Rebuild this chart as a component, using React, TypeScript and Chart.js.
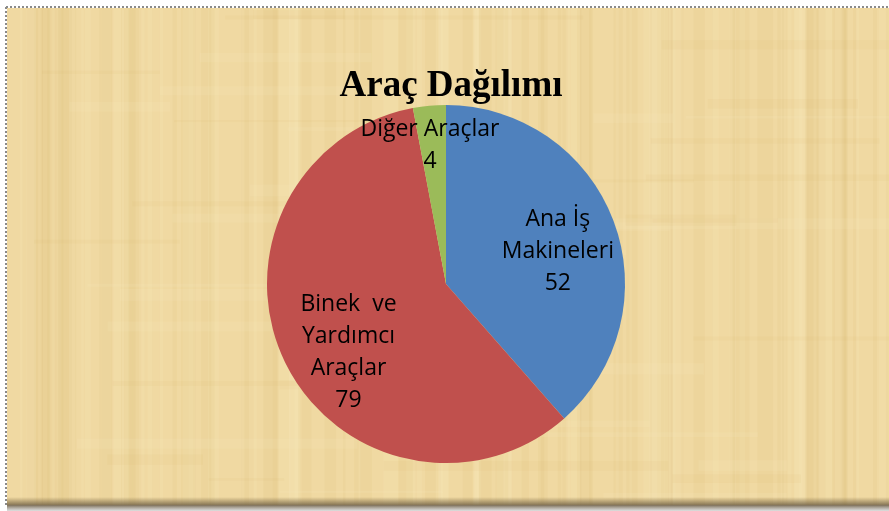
import React, { useEffect, useRef } from "react";
import { Chart, registerables } from "chart.js";

Chart.register(...registerables);

const TITLE = "Araç Dağılımı";
const categories = ["Ana İş Makineleri", "Binek ve Yardımcı Araçlar", "Diğer Araçlar"];
const labelLines = [["Ana İş", "Makineleri"], ["Binek  ve", "Yardımcı", "Araçlar"], ["Diğer Araçlar"]];
const values = [52, 79, 4];
const colors = ["#4F81BD", "#C0504D", "#9BBB59"];
// label placement: absolute angle (deg) and radius fraction
const labelAngles = [-16, 145, -96.6];
const labelRadius = [0.65, 0.665, 0.78];

function hash(n: number) {
  const s = Math.sin(n * 127.1 + 311.7) * 43758.5453;
  return s - Math.floor(s);
}

const backgroundPlugin = {
  id: "papyrus",
  beforeDraw(chart: any) {
    const ctx = chart.ctx as CanvasRenderingContext2D;
    const W = chart.width, H = chart.height;
    ctx.save();
    ctx.fillStyle = "#ffffff";
    ctx.fillRect(0, 0, W, H);
    const x0 = 7, y0 = 8, x1 = W, y1 = H - 6;
    ctx.fillStyle = "#F0D9A2";
    ctx.fillRect(x0, y0, x1 - x0, y1 - y0);
    // vertical streaks
    for (let i = 0; i < 120; i++) {
      const x = x0 + hash(i) * (x1 - x0);
      const w = 2 + hash(i + 500) * 14;
      const light = hash(i + 900) > 0.5;
      ctx.fillStyle = light ? "rgba(248,232,190,0.18)" : "rgba(214,178,105,0.09)";
      ctx.fillRect(x, y0, w, y1 - y0);
    }
    // horizontal streaks
    for (let i = 0; i < 50; i++) {
      const y = y0 + hash(i + 2000) * (y1 - y0);
      const h = 2 + hash(i + 2500) * 10;
      const x = x0 + hash(i + 3000) * (x1 - x0) * 0.8;
      const w = 60 + hash(i + 3500) * 300;
      const light = hash(i + 4000) > 0.5;
      ctx.fillStyle = light ? "rgba(248,232,190,0.14)" : "rgba(214,178,105,0.08)";
      ctx.fillRect(x, y, w, h);
    }
    // bottom shadow
    const g = ctx.createLinearGradient(0, y1 - 8, 0, H);
    g.addColorStop(0, "rgba(120,100,60,0)");
    g.addColorStop(0.6, "rgba(110,95,70,0.85)");
    g.addColorStop(1, "rgba(200,200,200,0.6)");
    ctx.fillStyle = g;
    ctx.fillRect(x0, y1 - 8, x1 - x0, H - y1 + 8);
    // dotted border top & left
    ctx.strokeStyle = "#8a8a8a";
    ctx.lineWidth = 2;
    ctx.setLineDash([2, 2]);
    ctx.beginPath();
    ctx.moveTo(x0 - 1, y0 - 1);
    ctx.lineTo(x1, y0 - 1);
    ctx.moveTo(x0 - 1, y0 - 1);
    ctx.lineTo(x0 - 1, y1);
    ctx.stroke();
    ctx.restore();
  },
  afterDraw(chart: any) {
    const ctx = chart.ctx as CanvasRenderingContext2D;
    ctx.save();
    ctx.fillStyle = "#000000";
    ctx.textAlign = "center";
    ctx.textBaseline = "alphabetic";
    ctx.font = "bold 37px 'Liberation Serif', 'Times New Roman', serif";
    ctx.fillText(TITLE, 451, 96);

    const meta = chart.getDatasetMeta(0);
    ctx.font = "23px 'Open Sans', 'Liberation Sans', sans-serif";
    ctx.textBaseline = "middle";
    meta.data.forEach((arc: any, i: number) => {
      const a = (labelAngles[i] * Math.PI) / 180;
      const r = arc.outerRadius * labelRadius[i];
      const cx = arc.x + Math.cos(a) * r;
      const cy = arc.y + Math.sin(a) * r;
      const lines = [...labelLines[i], String(values[i])];
      const lh = 32;
      const top = cy - ((lines.length - 1) * lh) / 2;
      lines.forEach((t, j) => ctx.fillText(t, cx, top + j * lh));
    });
    ctx.restore();
  },
};

export default function App() {
  const ref = useRef<HTMLCanvasElement | null>(null);
  useEffect(() => {
    document.body.style.margin = "0";
    const chart = new Chart(ref.current!, {
      type: "pie",
      data: {
        labels: categories,
        datasets: [
          {
            data: values,
            backgroundColor: colors,
            borderWidth: 0,
          },
        ],
      },
      options: {
        animation: false,
        responsive: false,
        layout: { padding: { top: 105, bottom: 48, left: 3, right: 0 } },
        plugins: {
          legend: { display: false },
          title: { display: false },
          tooltip: { enabled: false },
        },
      },
      plugins: [backgroundPlugin],
    });
    return () => chart.destroy();
  }, []);
  return <canvas ref={ref} width={889} height={511} style={{ display: "block" }} />;
}
